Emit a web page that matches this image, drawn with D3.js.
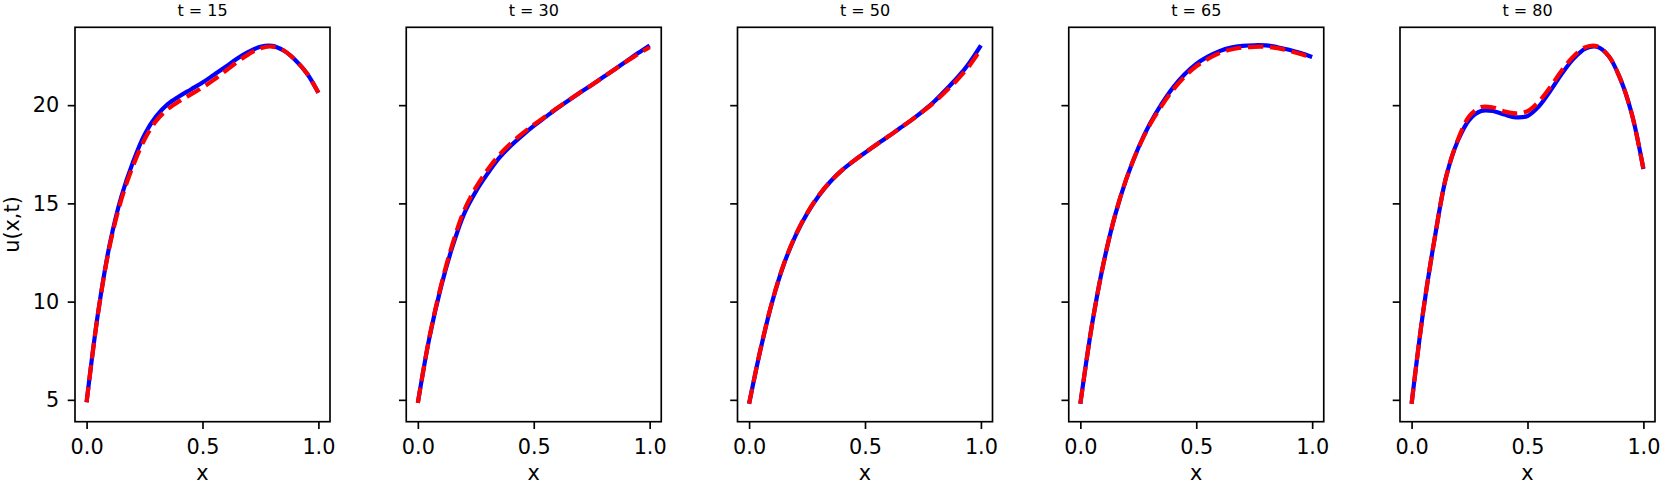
<!DOCTYPE html>
<html>
<head>
<meta charset="utf-8">
<script src="https://cdn.jsdelivr.net/npm/d3@7"></script>
<style>
  body { margin: 0; background: #fff; }
  text { font-family: "DejaVu Sans", sans-serif; fill: #000; }
</style>
</head>
<body>
<div id="chart"></div>
<script>
// data
var times = [15, 30, 50, 65, 80];
var xs = [0, 0.05, 0.1, 0.15, 0.2, 0.25, 0.3, 0.35, 0.4, 0.45, 0.5,
          0.55, 0.6, 0.65, 0.7, 0.75, 0.8, 0.85, 0.9, 0.95, 1.0];

var exact15 = [4.88, 9.47, 12.93, 15.35, 17.1, 18.5, 19.43, 20.05, 20.45, 20.8, 21.15,
               21.55, 21.95, 22.37, 22.72, 22.97, 23.02, 22.78, 22.3, 21.62, 20.63];
var pred15  = [4.88, 9.45, 12.85, 15.2, 16.9, 18.25, 19.2, 19.8, 20.2, 20.55, 20.9,
               21.3, 21.75, 22.2, 22.6, 22.9, 22.98, 22.78, 22.3, 21.62, 20.63];

var exact30 = [4.85, 8.17, 10.75, 12.82, 14.48, 15.6, 16.5, 17.3, 17.92, 18.45, 18.94,
               19.39, 19.83, 20.24, 20.64, 21.03, 21.43, 21.83, 22.24, 22.65, 23.04];
var pred30  = [4.85, 8.2, 10.82, 12.95, 14.65, 15.8, 16.7, 17.45, 18.05, 18.55, 19.0,
               19.42, 19.85, 20.25, 20.65, 21.03, 21.43, 21.83, 22.22, 22.6, 22.95];

var exact50 = [4.8, 7.6, 10.0, 11.9, 13.35, 14.48, 15.38, 16.1, 16.68, 17.15, 17.58,
               18.0, 18.4, 18.82, 19.24, 19.7, 20.2, 20.8, 21.42, 22.15, 23.04];
var pred50  = [4.8, 7.62, 10.02, 11.92, 13.37, 14.5, 15.4, 16.1, 16.68, 17.15, 17.58,
               18.0, 18.4, 18.82, 19.24, 19.68, 20.16, 20.72, 21.32, 22.0, 22.85];

var exact65 = [4.8, 8.8, 11.95, 14.4, 16.3, 17.82, 19.05, 20.05, 20.9, 21.57, 22.1,
               22.47, 22.75, 22.93, 23.02, 23.05, 23.04, 22.95, 22.82, 22.65, 22.45];
var pred65  = [4.8, 8.8, 11.95, 14.4, 16.3, 17.8, 19.0, 19.95, 20.78, 21.45, 21.98,
               22.35, 22.65, 22.83, 22.93, 22.97, 22.97, 22.9, 22.77, 22.6, 22.42];

var exact80 = [4.8, 9.5, 13.25, 16.4, 18.2, 19.27, 19.7, 19.7, 19.52, 19.38, 19.45,
               19.95, 20.75, 21.63, 22.38, 22.88, 22.97, 22.5, 21.35, 19.55, 16.75];
var pred80  = [4.8, 9.5, 13.25, 16.4, 18.25, 19.45, 19.9, 19.88, 19.68, 19.58, 19.7,
               20.2, 20.95, 21.8, 22.5, 22.95, 23.0, 22.5, 21.35, 19.55, 16.75];

var xTicks = [0, 0.5, 1.0];
var xTickLabels = ["0.0", "0.5", "1.0"];
var yTicks = [5, 10, 15, 20];

var exactAll = [exact15, exact30, exact50, exact65, exact80];
var predAll = [pred15, pred30, pred50, pred65, pred80];

// layout
var svgWidth = 1660;
var svgHeight = 486;
var panelLeft = 75;
var panelStep = 331.25;
var panelTop = 27.3;
var panelWidth = 255;
var panelHeight = 394.4;

var svg = d3.select("#chart")
    .append("svg")
    .attr("width", svgWidth)
    .attr("height", svgHeight);

// shared scales, 5% margins like matplotlib
var xScale = d3.scaleLinear()
    .domain([-0.05, 1.05])
    .range([0, panelWidth]);

var allVals = d3.merge(exactAll.concat(predAll));
var yMin = d3.min(allVals);
var yMax = d3.max(allVals);
var yPad = (yMax - yMin) * 0.05;

var yScale = d3.scaleLinear()
    .domain([yMin - yPad, yMax + yPad])
    .range([panelHeight, 0]);

var line = d3.line()
    .x(function (d) { return xScale(d[0]); })
    .y(function (d) { return yScale(d[1]); })
    .curve(d3.curveCatmullRom);

times.forEach(function (t, i) {
    var g = svg.append("g")
        .attr("transform", `translate(${panelLeft + i * panelStep}, ${panelTop})`);

    var exactPts = xs.map(function (x, j) { return [x, exactAll[i][j]]; });
    var predPts = xs.map(function (x, j) { return [x, predAll[i][j]]; });

    // exact solution
    g.append("path")
        .datum(exactPts)
        .attr("d", line)
        .attr("fill", "none")
        .attr("stroke", "#0000ff")
        .attr("stroke-width", 4.2);

    // prediction
    g.append("path")
        .datum(predPts)
        .attr("d", line)
        .attr("fill", "none")
        .attr("stroke", "#ff0000")
        .attr("stroke-width", 4.2)
        .attr("stroke-dasharray", "15.4,6.7");

    // axes
    var bottomAxis = d3.axisBottom(xScale)
        .tickValues(xTicks)
        .tickFormat(function (d, k) { return xTickLabels[k]; })
        .tickSize(7.3)
        .tickPadding(10);

    var leftAxis = d3.axisLeft(yScale)
        .tickValues(yTicks)
        .tickSize(7.3)
        .tickPadding(8.5);
    if (i > 0) leftAxis.tickFormat("");

    var xg = g.append("g")
        .attr("transform", `translate(0, ${panelHeight})`)
        .call(bottomAxis);
    var yg = g.append("g")
        .call(leftAxis);

    [xg, yg].forEach(function (ax) {
        ax.select(".domain").remove();
        ax.selectAll(".tick line").attr("stroke", "#000").attr("stroke-width", 1.67);
        ax.selectAll(".tick text")
            .style("font-family", "DejaVu Sans")
            .style("font-size", "20.8px")
            .attr("fill", "#000");
    });

    // frame
    g.append("rect")
        .attr("x", 0)
        .attr("y", 0)
        .attr("width", panelWidth)
        .attr("height", panelHeight)
        .attr("fill", "none")
        .attr("stroke", "#000")
        .attr("stroke-width", 1.67);

    // title
    g.append("text")
        .attr("x", panelWidth / 2)
        .attr("y", -11.8)
        .attr("text-anchor", "middle")
        .style("font-size", "16px")
        .text("t = " + t);

    // x label
    g.append("text")
        .attr("x", panelWidth / 2)
        .attr("y", panelHeight + 58)
        .attr("text-anchor", "middle")
        .style("font-size", "20.8px")
        .text("x");
});

// y label
svg.append("text")
    .attr("transform", `translate(18.5, ${panelTop + panelHeight / 2}) rotate(-90)`)
    .attr("text-anchor", "middle")
    .style("font-size", "20.8px")
    .text("u(x,t)");
</script>
</body>
</html>
